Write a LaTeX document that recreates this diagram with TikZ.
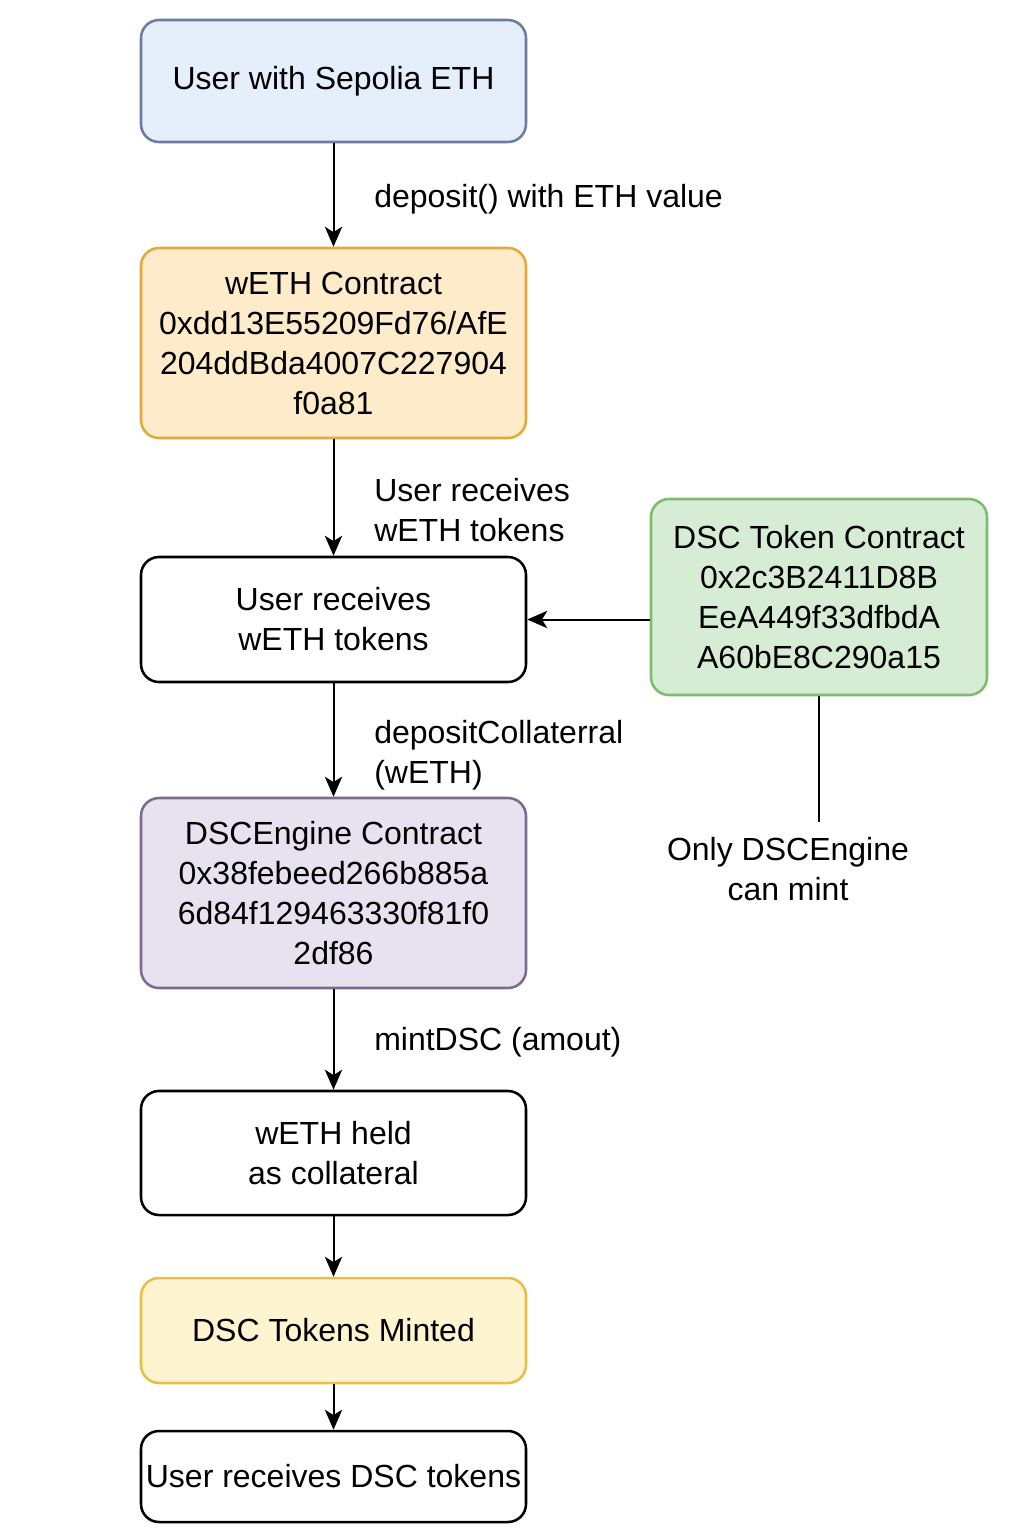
\documentclass[tikz,border=0pt]{standalone}
\usepackage{fontspec}
\setmainfont{Liberation Sans}
\usetikzlibrary{arrows.meta}
\definecolor{bluefill}{HTML}{E4EFFB}
\definecolor{blueline}{HTML}{6B7CA3}
\definecolor{orfill}{HTML}{FDEBC9}
\definecolor{orline}{HTML}{E3A83E}
\definecolor{grfill}{HTML}{D6ECD4}
\definecolor{grline}{HTML}{7DBB6E}
\definecolor{pufill}{HTML}{E8E1EF}
\definecolor{puline}{HTML}{7B6B8E}
\definecolor{yefill}{HTML}{FEF5D0}
\definecolor{yeline}{HTML}{E6BE48}
\begin{document}
\begin{tikzpicture}[x=0.75pt,y=-0.75pt,
  font=\fontsize{24}{30}\selectfont,
  box/.style={draw, rounded corners=13.5pt, line width=1.9pt, minimum width=288.75pt,
    align=center, inner sep=0pt, fill=white},
  arr/.style={line width=1.5pt, -{Stealth[length=15pt,width=13pt,inset=4pt]}},
  conn/.style={line width=1.5pt},
  lbl/.style={anchor=west, align=left, inner sep=0pt}]
\useasboundingbox (0,0) rectangle (1024,1536);
\node[box, draw=blueline, fill=bluefill, minimum height=91.5pt] (b1) at (333.5,81) {User with Sepolia ETH};
\node[box, draw=orline, fill=orfill, minimum height=142.5pt] (b2) at (333.5,343) {wETH Contract\\0xdd13E55209Fd76/AfE\\204ddBda4007C227904\\f0a81};
\node[box, minimum height=93.75pt] (b3) at (333.5,619.5) {User receives\\wETH tokens};
\node[box, draw=grline, fill=grfill, minimum width=252pt, minimum height=147pt] (dsc) at (819,597) {DSC Token Contract\\0x2c3B2411D8B\\EeA449f33dfbdA\\A60bE8C290a15};
\node[box, draw=puline, fill=pufill, minimum height=142.5pt] (b4) at (333.5,893) {DSCEngine Contract\\0x38febeed266b885a\\6d84f129463330f81f0\\2df86};
\node[box, minimum height=93pt] (b5) at (333.5,1153) {wETH held\\as collateral};
\node[box, draw=yeline, fill=yefill, minimum height=78.75pt] (b6) at (333.5,1330.5) {DSC Tokens Minted};
\node[box, minimum height=68.25pt] (b7) at (333.5,1476.5) {User receives DSC tokens};
\node[align=center, inner sep=0pt] (only) at (788,869) {Only DSCEngine\\can mint};
\coordinate (dscend) at (819,822);
\node[lbl] (l1) at (374,199) {deposit() with ETH value};
\node[lbl] (l2) at (374,510) {User receives\\wETH tokens};
\node[lbl] (l3) at (374,755) {depositCollaterral\\(wETH)};
\node[lbl] (l4) at (374,1042) {mintDSC (amout)};
\draw[arr] (b1) -- (b2);
\draw[arr] (b2) -- (b3);
\draw[arr] (b3) -- (b4);
\draw[arr] (b4) -- (b5);
\draw[arr] (b5) -- (b6);
\draw[arr] (b6) -- (b7);
\draw[arr] (dsc.west |- b3.east) -- (b3.east);
\draw[conn] (dsc.south) -- (dscend);
\end{tikzpicture}
\end{document}
